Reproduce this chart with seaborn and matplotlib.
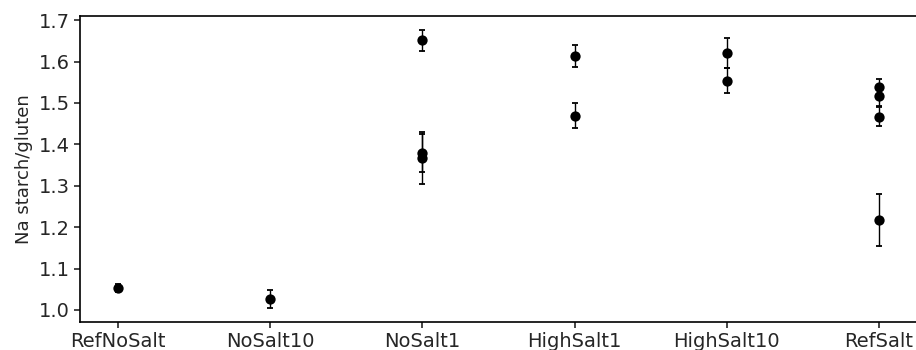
import numpy as np
import pandas as pd
import matplotlib
matplotlib.use("Agg")
import matplotlib.pyplot as plt
import seaborn as sns

# data
groups = ["RefNoSalt", "NoSalt10", "NoSalt1", "NoSalt1", "NoSalt1",
          "HighSalt1", "HighSalt1", "HighSalt10", "HighSalt10",
          "RefSalt", "RefSalt", "RefSalt", "RefSalt"]
ratio = [1.053, 1.026, 1.651, 1.380, 1.368,
         1.613, 1.469, 1.620, 1.554,
         1.538, 1.516, 1.467, 1.218]
err = [0.010, 0.022, 0.026, 0.046, 0.063,
       0.027, 0.030, 0.036, 0.030,
       0.021, 0.024, 0.023, 0.063]

df = pd.DataFrame({"group": groups, "ratio": ratio, "err": err})

sns.set_style("ticks")
plt.rcParams["font.family"] = ["DejaVu Sans"]

fig = plt.figure(figsize=(9.16, 3.5), dpi=100)
ax = fig.add_axes([80 / 916, 28 / 350, 840 / 916, 306 / 350])

sns.scatterplot(data=df, x="group", y="ratio", color="black", s=55,
                edgecolor="black", linewidth=0, zorder=3, ax=ax)
ax.errorbar(df["group"], df["ratio"], yerr=df["err"], fmt="none",
            ecolor="black", elinewidth=1, capsize=2, capthick=1.3, zorder=2)

ax.set_xlim(-0.25, 5.27)
ax.set_ylim(0.971, 1.71)
ax.set_yticks([1.0, 1.1, 1.2, 1.3, 1.4, 1.5, 1.6, 1.7])
ax.set_xlabel("")
ax.set_ylabel("Na starch/gluten", fontsize=13)
ax.tick_params(labelsize=14, length=4, width=1.2)
for s in ax.spines.values():
    s.set_linewidth(1.2)
    s.set_color("black")
# the reference is cropped at the right edge, so no right spine shows
ax.spines["right"].set_visible(False)

fig.savefig("out.png", dpi=100)
